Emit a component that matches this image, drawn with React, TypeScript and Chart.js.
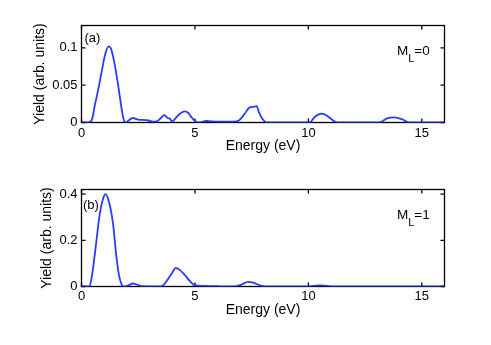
import React, { useEffect, useRef } from 'react';
import { Chart, registerables } from 'chart.js';

Chart.register(...registerables);

// ---------- data ----------
const X_TICKS = [0, 5, 10, 15];
const X_TICK_LABELS = ['0', '5', '10', '15'];
const X_MIN = 0;
const X_MAX = 16;

const TOP_Y_TICKS = [0, 0.05, 0.1];
const TOP_Y_TICK_LABELS = ['0', '0.05', '0.1'];
const TOP_Y_MAX = 0.13;

const BOT_Y_TICKS = [0, 0.2, 0.4];
const BOT_Y_TICK_LABELS = ['0', '0.2', '0.4'];
const BOT_Y_MAX = 0.42;

const X_TITLE = 'Energy (eV)';
const Y_TITLE = 'Yield (arb. units)';

// M_L = 0 panel
const topEnergy = [
  0, 0.3, 0.45, 0.6, 0.75, 0.9, 1.05, 1.2, 1.3, 1.45, 1.6, 1.75, 1.85, 1.95,
  2.05, 2.25, 2.5, 2.9, 3.15, 3.35, 3.5, 3.65, 3.8, 3.9, 4.0, 4.15, 4.35, 4.55,
  4.7, 4.85, 5.0, 5.15, 5.5, 6.0, 6.7, 6.95, 7.2, 7.4, 7.6, 7.72, 7.82, 7.95,
  8.15, 10.05, 10.3, 10.58, 10.85, 11.08, 11.3, 13.1, 13.5, 13.8, 14.15, 14.45, 16,
];
const topYield = [
  0, 0, 0.003, 0.025, 0.046, 0.07, 0.092, 0.102, 0.099, 0.08, 0.053, 0.022, 0.005, 0,
  0.002, 0.006, 0.004, 0.003, 0.001, 0.002, 0.006, 0.01, 0.006, 0.005, 0.001, 0.006, 0.012, 0.015,
  0.013, 0.007, 0.002, 0, 0.002, 0.001, 0.001, 0.003, 0.012, 0.02, 0.021, 0.022, 0.014, 0.006,
  0, 0, 0.008, 0.012, 0.0085, 0.003, 0, 0, 0.006, 0.007, 0.004, 0, 0,
];

// M_L = 1 panel
const botEnergy = [
  0, 0.35, 0.45, 0.55, 0.66, 0.8, 0.95, 1.06, 1.2, 1.39, 1.54, 1.65, 1.76, 1.85,
  2.05, 2.27, 2.45, 2.65, 3.5, 3.65, 3.82, 4.0, 4.15, 4.33, 4.55, 4.77, 4.95, 5.2,
  5.6, 6.0, 6.7, 7.05, 7.34, 7.56, 7.86, 8.1, 10.0, 10.2, 10.5, 10.8, 11.1, 16,
];
const botYield = [
  0, 0, 0.04, 0.11, 0.2, 0.31, 0.38, 0.4, 0.37, 0.272, 0.127, 0.05, 0.01, 0,
  0.004, 0.013, 0.008, 0.001, 0, 0.01, 0.033, 0.06, 0.081, 0.072, 0.05, 0.024, 0.007, 0.003,
  0.002, 0.001, 0, 0.008, 0.02, 0.017, 0.005, 0, 0, 0.003, 0.005, 0.003, 0, 0,
];

const FONT = "'Liberation Sans', Arial, Helvetica, sans-serif";
const LINE_COLOR = 'rgb(40, 60, 255)';

type PanelProps = {
  energy: number[];
  yieldVals: number[];
  yTicks: number[];
  yTickLabels: string[];
  yMax: number;
  tag: string;
  ml: string;
  top: number;
  height: number;
  areaTop: number;
  xScaleHeight: number;
  padBottom: number;
  xTickPad: number;
  yTitlePad: number;
  tagDx: number;
  tagDy: number;
};

function Panel(p: PanelProps) {
  const ref = useRef<HTMLCanvasElement | null>(null);
  useEffect(() => {
    const canvas = ref.current;
    if (!canvas) return;
    const framePlugin = {
      id: 'frameTicks',
      beforeDatasetsDraw(chart: any) {
        const { ctx, chartArea: a, scales } = chart;
        ctx.save();
        ctx.strokeStyle = '#000';
        ctx.lineWidth = 1.3;
        ctx.strokeRect(a.left, a.top, a.right - a.left, a.bottom - a.top);
        ctx.beginPath();
        const TL = 4;
        for (const v of X_TICKS) {
          const px = scales.x.getPixelForValue(v);
          ctx.moveTo(px, a.bottom);
          ctx.lineTo(px, a.bottom - TL);
          ctx.moveTo(px, a.top);
          ctx.lineTo(px, a.top + TL);
        }
        for (const v of p.yTicks) {
          const py = scales.y.getPixelForValue(v);
          ctx.moveTo(a.left, py);
          ctx.lineTo(a.left + TL, py);
          ctx.moveTo(a.right, py);
          ctx.lineTo(a.right - TL, py);
        }
        ctx.stroke();
        ctx.restore();
      },
      afterDraw(chart: any) {
        const { ctx, chartArea: a } = chart;
        ctx.save();
        ctx.fillStyle = '#000';
        ctx.textBaseline = 'alphabetic';
        ctx.textAlign = 'left';
        ctx.font = `13px ${FONT}`;
        ctx.fillText(p.tag, a.left + p.tagDx, a.top + p.tagDy);
        const mx = a.right - 47.5;
        const my = a.top + 29.5;
        ctx.font = `13.5px ${FONT}`;
        ctx.fillText('M', mx, my);
        const mw = ctx.measureText('M').width;
        ctx.font = `11px ${FONT}`;
        ctx.fillText('L', mx + mw, my + 7);
        const lw = ctx.measureText('L').width;
        ctx.font = `13.5px ${FONT}`;
        ctx.fillText('=' + p.ml, mx + mw + lw, my);
        ctx.restore();
      },
    };

    const chart = new Chart(canvas, {
      type: 'line',
      data: {
        datasets: [
          {
            data: p.energy.map((x, i) => ({ x, y: p.yieldVals[i] })),
            borderColor: LINE_COLOR,
            borderWidth: 1.8,
            pointRadius: 0,
            fill: false,
            cubicInterpolationMode: 'monotone',
          },
        ],
      },
      options: {
        responsive: false,
        animation: false,
        layout: {
          padding: { left: 0, top: p.areaTop, right: 46.5, bottom: p.padBottom },
        },
        plugins: {
          legend: { display: false },
          tooltip: { enabled: false },
        },
        scales: {
          x: {
            type: 'linear',
            min: X_MIN,
            max: X_MAX,
            grid: { display: false, drawTicks: false },
            border: { display: false },
            afterBuildTicks: (s: any) => {
              s.ticks = X_TICKS.map((v) => ({ value: v }));
            },
            afterFit: (s: any) => {
              s.height = p.xScaleHeight;
            },
            ticks: {
              autoSkip: false,
              maxRotation: 0,
              padding: p.xTickPad,
              color: '#000',
              font: { family: FONT, size: 13 },
              callback: (_v: any, i: number) => X_TICK_LABELS[i],
            },
            title: {
              display: true,
              text: X_TITLE,
              color: '#000',
              font: { family: FONT, size: 14 },
              padding: { top: 0, bottom: 0 },
            },
          },
          y: {
            type: 'linear',
            min: 0,
            max: p.yMax,
            grid: { display: false, drawTicks: false },
            border: { display: false },
            afterBuildTicks: (s: any) => {
              s.ticks = p.yTicks.map((v) => ({ value: v }));
            },
            afterFit: (s: any) => {
              s.width = 81.5;
            },
            ticks: {
              autoSkip: false,
              padding: 4,
              color: '#000',
              font: { family: FONT, size: 13 },
              callback: (_v: any, i: number) => p.yTickLabels[i],
            },
            title: {
              display: true,
              text: Y_TITLE,
              color: '#000',
              font: { family: FONT, size: 14 },
              padding: { top: p.yTitlePad, bottom: 0 },
            },
          },
        },
      } as any,
      plugins: [framePlugin],
    });
    return () => chart.destroy();
  }, []);

  return (
    <canvas
      ref={ref}
      width={491}
      height={p.height}
      style={{ position: 'absolute', left: 0, top: p.top, width: 491, height: p.height, display: 'block' }}
    />
  );
}

export default function App() {
  return (
    <div style={{ position: 'absolute', left: 0, top: 0, width: 491, height: 345, background: '#fff' }}>
      <Panel
        energy={topEnergy}
        yieldVals={topYield}
        yTicks={TOP_Y_TICKS}
        yTickLabels={TOP_Y_TICK_LABELS}
        yMax={TOP_Y_MAX}
        tag="(a)"
        ml="0"
        top={0}
        height={172}
        areaTop={25.5}
        xScaleHeight={32.5}
        padBottom={17}
        xTickPad={3}
        yTitlePad={31.6}
        tagDx={3}
        tagDy={16}
      />
      <Panel
        energy={botEnergy}
        yieldVals={botYield}
        yTicks={BOT_Y_TICKS}
        yTickLabels={BOT_Y_TICK_LABELS}
        yMax={BOT_Y_MAX}
        tag="(b)"
        ml="1"
        top={172}
        height={173}
        areaTop={17.5}
        xScaleHeight={31.9}
        padBottom={26.6}
        xTickPad={2}
        yTitlePad={39}
        tagDx={1.5}
        tagDy={19.5}
      />
    </div>
  );
}
